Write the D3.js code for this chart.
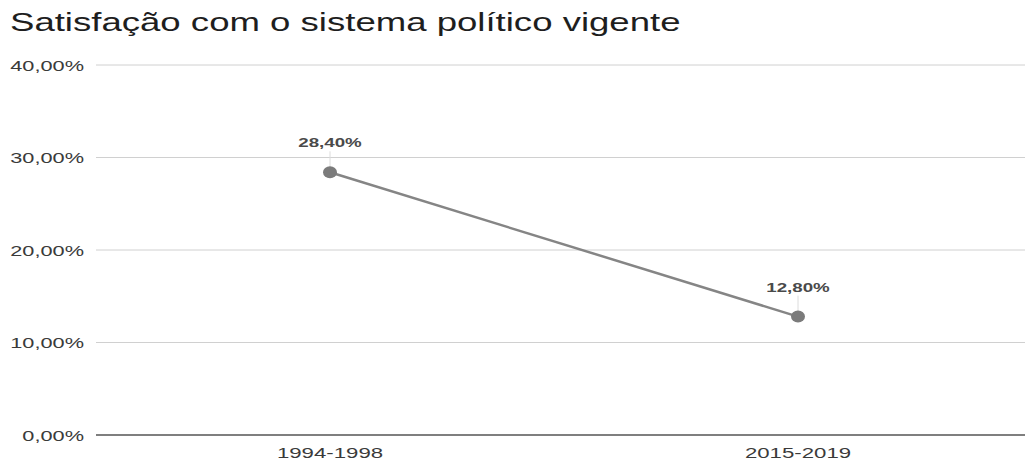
<!DOCTYPE html>
<html><head><meta charset="utf-8">
<script src="https://cdn.jsdelivr.net/npm/d3@7"></script>
<style>body{margin:0;background:#fff}</style>
</head><body>
<svg id="c" width="1025" height="463"></svg>
<script>
const categories = ["1994-1998", "2015-2019"];
const values = [28.4, 12.8];
const yTicks = [0, 10, 20, 30, 40];
const title = "Satisfação com o sistema político vigente";

(function () {
const svg = d3.select("#c");
const W = 1025;
const mLeft = 96, mRight = 1032, mTop = 65, mBottom = 435;
const SX = 1.45;
const fmt = v => d3.format(".2f")(v).replace(".", ",") + "%";
const FONT = "Liberation Sans, Arial, sans-serif";
const tr = (px, py, s) => `translate(${px},${py}) scale(${s || SX},1)`;

const x = d3.scalePoint().domain(categories).range([mLeft, mRight]).padding(0.5);
const y = d3.scaleLinear().domain([0, 40]).range([mBottom, mTop]);

svg.append("text").attr("transform", tr(10, 30.5, 1.38))
  .attr("font-family", FONT).attr("font-size", 26.5)
  .attr("fill", "#1e1e1e").text(title);

const g = svg.append("g");
g.selectAll("line.grid").data(yTicks.filter(d => d > 0)).join("line")
  .attr("x1", mLeft).attr("x2", W).attr("y1", d => y(d)).attr("y2", d => y(d))
  .attr("stroke", "#d0d0d0").attr("stroke-width", 1);
g.append("line").attr("x1", mLeft).attr("x2", W).attr("y1", y(0)).attr("y2", y(0))
  .attr("stroke", "#555").attr("stroke-width", 1.6);

g.selectAll("text.yl").data(yTicks).join("text")
  .attr("transform", d => tr(84, y(d) + 5.5)).attr("text-anchor", "end")
  .attr("font-family", FONT).attr("font-size", 15)
  .attr("fill", "#3a3a3a").text(d => fmt(d));

g.selectAll("text.xl").data(categories).join("text")
  .attr("transform", d => tr(x(d), 457.5, 1.48)).attr("text-anchor", "middle")
  .attr("font-family", FONT).attr("font-size", 15)
  .attr("fill", "#3a3a3a").text(d => d);

const data = categories.map((c, i) => ({c, v: values[i]}));
g.selectAll("line.lead").data(data).join("line")
  .attr("x1", d => x(d.c)).attr("x2", d => x(d.c))
  .attr("y1", d => y(d.v) - 21).attr("y2", d => y(d.v) - 5)
  .attr("stroke", "#dcdcdc").attr("stroke-width", 1);

g.append("path").datum(data)
  .attr("d", d3.line().x(d => x(d.c)).y(d => y(d.v)))
  .attr("fill", "none").attr("stroke", "#858585").attr("stroke-width", 2.5);

g.selectAll("ellipse").data(data).join("ellipse")
  .attr("cx", d => x(d.c)).attr("cy", d => y(d.v)).attr("rx", 7).attr("ry", 6)
  .attr("fill", "#7b7b7b");

g.selectAll("text.dl").data(data).join("text")
  .attr("transform", d => tr(x(d.c), y(d.v) - 25, 1.5)).attr("text-anchor", "middle")
  .attr("font-family", FONT).attr("font-size", 12.5)
  .attr("font-weight", "bold")
  .attr("fill", "#4a4a4a").text(d => fmt(d.v));
})();
</script>
</body></html>
